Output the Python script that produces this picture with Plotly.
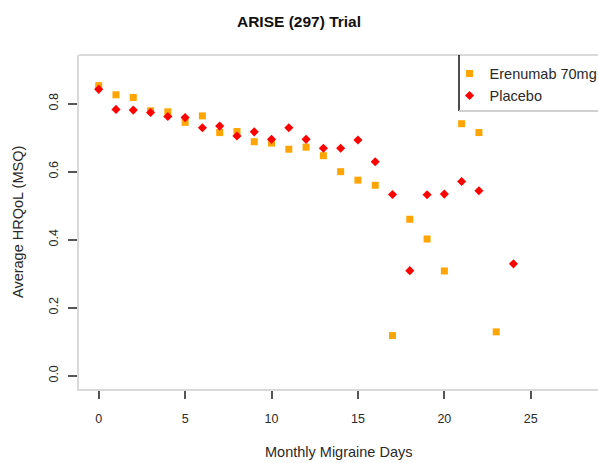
import plotly.graph_objects as go

# Data
eren_days = [0, 1, 2, 3, 4, 5, 6, 7, 8, 9, 10, 11, 12, 13, 14, 15, 16, 17, 18, 19, 20, 21, 22, 23]
eren_hrqol = [0.853, 0.826, 0.818, 0.779, 0.776, 0.745, 0.764, 0.715, 0.718, 0.688, 0.684, 0.666,
              0.672, 0.647, 0.600, 0.575, 0.560, 0.118, 0.460, 0.402, 0.308, 0.741, 0.715, 0.129]

plac_days = [0, 1, 2, 3, 4, 5, 6, 7, 8, 9, 10, 11, 12, 13, 14, 15, 16, 17, 18, 19, 20, 21, 22, 24]
plac_hrqol = [0.842, 0.783, 0.781, 0.774, 0.762, 0.759, 0.729, 0.734, 0.705, 0.717, 0.695, 0.729,
              0.695, 0.669, 0.669, 0.693, 0.629, 0.533, 0.309, 0.532, 0.534, 0.571, 0.544, 0.329]

x_ticks = [0, 5, 10, 15, 20, 25]
y_ticks = [0.0, 0.2, 0.4, 0.6, 0.8]

FONT = "Liberation Sans, Arial, sans-serif"
TXT = "#2a2a2a"

fig = go.Figure()
fig.add_trace(go.Scatter(
    x=eren_days, y=eren_hrqol, mode="markers", name="Erenumab 70mg",
    marker=dict(symbol="square", size=7, color="#FFA500", line=dict(width=0)),
))
fig.add_trace(go.Scatter(
    x=plac_days, y=plac_hrqol, mode="markers", name="Placebo",
    marker=dict(symbol="diamond", size=7, color="#FF0000", line=dict(width=0)),
))

fig.update_layout(
    width=598, height=463,
    margin=dict(l=79, r=0, t=55, b=74, autoexpand=False),
    paper_bgcolor="white", plot_bgcolor="white",
    font=dict(family=FONT, size=12.5, color=TXT),
    title=dict(text="<b>ARISE (297) Trial</b>", x=0.5, xanchor="center",
               y=1 - 22 / 463, yanchor="middle",
               font=dict(family=FONT, size=15.5, color="#111")),
    showlegend=True,
    legend=dict(x=0.714, xanchor="left", y=0.992, yanchor="top",
                bgcolor="rgba(0,0,0,0)", borderwidth=0,
                font=dict(family=FONT, size=14.5, color=TXT),
                tracegroupgap=0, itemwidth=30),
    xaxis=dict(range=[-1.14, 28.89], tickvals=x_ticks, ticks="outside", ticklen=8,
               tickwidth=1.5, tickcolor="#555", showline=True, linecolor="#d9d9d9",
               linewidth=2, showgrid=False, zeroline=False, ticklabelstandoff=9,
               tickfont=dict(size=12.5, color=TXT)),
    yaxis=dict(range=[-0.039, 0.943], tickvals=y_ticks, tickformat=".1f", ticks="outside",
               ticklen=9, tickwidth=1.5, tickcolor="#555", showline=True,
               linecolor="#d9d9d9", linewidth=2, showgrid=False, zeroline=False,
               tickangle=-90, ticklabelstandoff=5, tickfont=dict(size=12.5, color=TXT)),
    annotations=[
        dict(text="Monthly Migraine Days", xref="paper", yref="paper", x=0.5,
             y=(389 - 452) / 334, xanchor="center", yanchor="middle", showarrow=False,
             font=dict(family=FONT, size=14.5, color=TXT)),
        dict(text="Average HRQoL (MSQ)", xref="paper", yref="paper", x=(18 - 79) / 519,
             y=0.5, xanchor="center", yanchor="middle", textangle=-90, showarrow=False,
             font=dict(family=FONT, size=14.5, color=TXT)),
    ],
    shapes=[
        dict(type="line", xref="paper", yref="paper", x0=0, x1=1, y0=1, y1=1,
             line=dict(color="#d9d9d9", width=2)),
        dict(type="line", xref="paper", yref="paper", x0=(459 - 79) / 519, x1=(459 - 79) / 519,
             y0=1, y1=(389 - 111) / 334, line=dict(color="#111", width=1.5)),
        dict(type="line", xref="paper", yref="paper", x0=(459 - 79) / 519, x1=1,
             y0=(389 - 111) / 334, y1=(389 - 111) / 334, line=dict(color="#d0d0d0", width=2)),
    ],
)

fig.write_html(
    "out.html", config={"displayModeBar": False},
    post_script=("document.body.style.margin='0px';"
                 "document.body.style.overflow='hidden';"
                 "document.documentElement.style.overflow='hidden';"),
)
